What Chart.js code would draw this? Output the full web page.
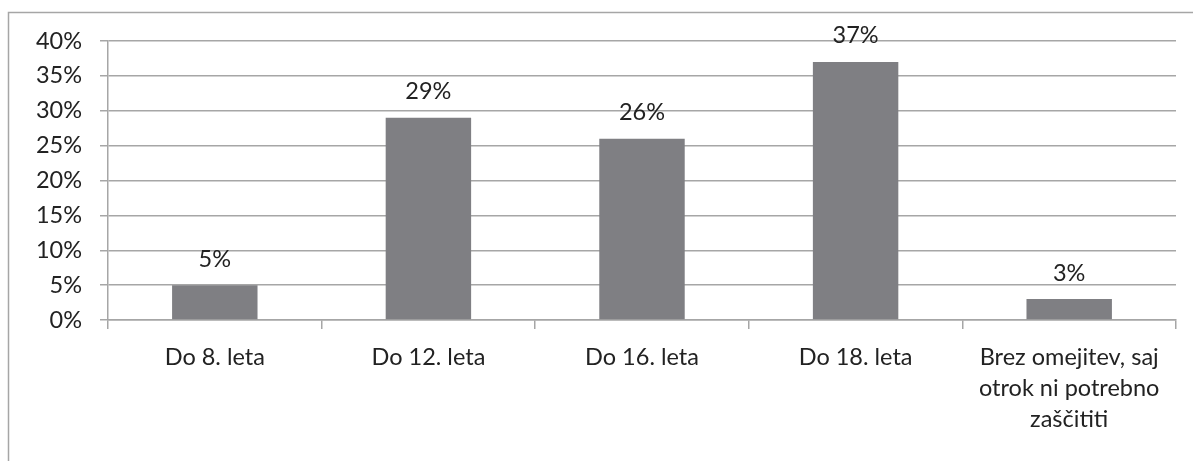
<!DOCTYPE html>
<html>
<head>
<meta charset="utf-8">
<script src="https://cdn.jsdelivr.net/npm/chart.js@4"></script>
<style>
  html, body { margin: 0; padding: 0; background: #ffffff; }
  #wrap { width: 1193px; height: 461px; position: relative; }
</style>
</head>
<body>
<div id="wrap"><canvas id="c" width="1193" height="461"></canvas></div>
<script>
// Age limits up to which children should be protected (share of answers, %)
const categories = [
  "Do 8. leta",
  "Do 12. leta",
  "Do 16. leta",
  "Do 18. leta",
  ["Brez omejitev, saj", "otrok ni potrebno", "zaščititi"]
];
const shares = [5, 29, 26, 37, 3];
const yTicks = [0, 5, 10, 15, 20, 25, 30, 35, 40];

const FONT = "Lato, 'Open Sans', sans-serif";
const FONT_SIZE = 23.5;
const TEXT = "#222222";
const LINE = "#a6a6a6";

// Frame around the chart
const framePlugin = {
  id: "frame",
  beforeDraw(chart) {
    const ctx = chart.ctx;
    ctx.save();
    ctx.strokeStyle = LINE;
    ctx.lineWidth = 1.5;
    ctx.beginPath();
    ctx.moveTo(8.5, 461);
    ctx.lineTo(8.5, 12.5);
    ctx.lineTo(1193, 12.5);
    ctx.stroke();
    ctx.restore();
  }
};
// Percentage written above each bar
const valueLabels = {
  id: "valueLabels",
  afterDatasetsDraw(chart) {
    const ctx = chart.ctx;
    const meta = chart.getDatasetMeta(0);
    ctx.save();
    ctx.fillStyle = TEXT;
    ctx.font = FONT_SIZE + "px " + FONT;
    ctx.textAlign = "center";
    ctx.textBaseline = "alphabetic";
    meta.data.forEach((bar, i) => {
      ctx.fillText(shares[i] + "%", bar.x, bar.y - 18.5);
    });
    ctx.restore();
  }
};

new Chart(document.getElementById("c"), {
  type: "bar",
  data: {
    labels: categories,
    datasets: [{
      data: shares,
      backgroundColor: "#7f7f83",
      borderWidth: 0,
      categoryPercentage: 1,
      barPercentage: 0.4
    }]
  },
  options: {
    responsive: false,
    animation: false,
    layout: { padding: { top: 41, right: 17, left: 0, bottom: 0 } },
    plugins: { legend: { display: false }, tooltip: { enabled: false } },
    scales: {
      y: {
        min: 0,
        max: 40,
        afterFit(scale) { scale.width = 108; },
        afterBuildTicks(scale) { scale.ticks = yTicks.map(v => ({ value: v })); },
        border: { color: LINE, width: 1.5 },
        grid: { color: LINE, lineWidth: 1.5, tickLength: 8, drawOnChartArea: true },
        ticks: {
          color: TEXT,
          font: { family: FONT, size: FONT_SIZE },
          padding: 18,
          callback: v => v + "%"
        }
      },
      x: {
        afterFit(scale) { scale.height = 141; },
        border: { color: LINE, width: 1.5 },
        grid: { color: LINE, lineWidth: 1.5, offset: true, drawOnChartArea: false, tickLength: 9 },
        ticks: {
          color: TEXT,
          font: { family: FONT, size: FONT_SIZE, lineHeight: 31 / FONT_SIZE },
          padding: 13,
          maxRotation: 0,
          autoSkip: false
        }
      }
    }
  },
  plugins: [framePlugin, valueLabels]
});
</script>
</body>
</html>
